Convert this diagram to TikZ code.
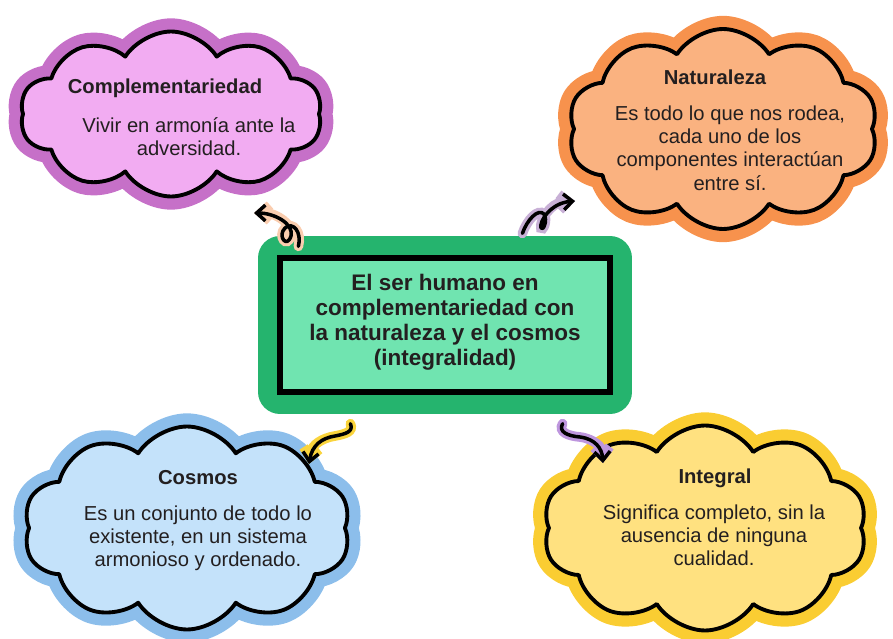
\documentclass[tikz,border=0pt]{standalone}
\usepackage{fontspec}
\setmainfont{Liberation Sans}
\usetikzlibrary{shapes.symbols,arrows.meta}

\definecolor{inkgray}{RGB}{35,31,32}
\definecolor{purpleband}{RGB}{198,112,200}
\definecolor{purplefill}{RGB}{242,172,242}
\definecolor{orangeband}{RGB}{247,146,77}
\definecolor{orangefill}{RGB}{250,178,128}
\definecolor{blueband}{RGB}{140,190,235}
\definecolor{bluefill}{RGB}{196,226,250}
\definecolor{yellowband}{RGB}{250,205,50}
\definecolor{yellowfill}{RGB}{255,225,128}
\definecolor{greenband}{RGB}{37,180,110}
\definecolor{greenfill}{RGB}{112,228,176}
\definecolor{peachhalo}{RGB}{250,205,175}
\definecolor{lilachalo}{RGB}{200,176,214}
\definecolor{yellowhalo}{RGB}{250,212,60}
\definecolor{violethalo}{RGB}{190,150,222}

\begin{document}
\begin{tikzpicture}[x=0.02cm, y=-0.02cm,
	thought/.style={cloud, cloud puffs=10, cloud puff arc=115, cloud ignores aspect, draw=black, line width=2.2pt, line join=round, inner sep=0pt},
	band/.style={preaction={draw=#1, line width=15pt, line join=round}},
	heading/.style={font=\fontsize{11.5}{13.2}\selectfont\bfseries, text=inkgray, inner sep=0pt},
	body/.style={font=\fontsize{11.5}{13.2}\selectfont, text=inkgray, align=center, inner sep=0pt},
	curl/.style={draw=black, line width=2pt, line cap=round, line join=round, -{Straight Barb[length=5pt,width=9pt]}, preaction={draw=#1, line width=5.5pt, line cap=round}}]
	
	\useasboundingbox (0,0) rectangle (893,639);
	
	%Central box
	\node (main) at (445,325) [rectangle, draw=black, line width=3pt, fill=greenfill, minimum width=6.6cm, minimum height=2.68cm, preaction={draw=greenband, line width=25pt, line join=round}]{};
	\node (mainText) at (445,322) [font=\fontsize{12.8}{14.3}\selectfont\bfseries, text=inkgray, align=center, inner sep=0pt]{El ser humano en\\complementariedad con\\la naturaleza y el cosmos\\(integralidad)};
	
	%Clouds
	\node (compl) at (171,114) [thought, band=purpleband, fill=purplefill, minimum width=6.04cm, minimum height=3.3cm]{};
	\node (natur) at (723,129) [thought, band=orangeband, fill=orangefill, minimum width=6.2cm, minimum height=4cm]{};
	\node (cosmos) at (187,528) [thought, band=blueband, fill=bluefill, minimum width=6.54cm, minimum height=4.06cm]{};
	\node (integ) at (705,528) [thought, band=yellowband, fill=yellowfill, minimum width=6.48cm, minimum height=4.1cm]{};
	
	%Cloud texts
	\node (complT) at (165,88) [heading]{Complementariedad};
	\node (complB) at (189,137) [body]{Vivir en armonía ante la\\adversidad.};
	
	\node (naturT) at (715,77) [heading]{Naturaleza};
	\node (naturB) at (730,148) [body]{Es todo lo que nos rodea,\\cada uno de los\\componentes interactúan\\entre sí.};
	
	\node (cosmosT) at (198,478) [heading]{Cosmos};
	\node (cosmosB) at (198,538) [body]{Es un conjunto de todo lo\\existente, en un sistema\\armonioso y ordenado.};
	
	\node (integT) at (715,478) [heading]{Integral};
	\node (integB) at (714,535) [body]{Significa completo, sin la\\ausencia de ninguna\\cualidad.};
	
	%Curly links
	\draw[curl=peachhalo] ([shift={(21,-9)}]main.north west) .. controls (302,232) and (293,221) .. (285,228) .. controls (277,236) and (287,249) .. (291,236) .. controls (294,224) and (275,213) .. ([shift={(83,99)}]compl.center);
	
	\draw[curl=lilachalo] ([shift={(245,-22)}]main.north west) .. controls (527,220) and (538,208) .. (544,214) .. controls (548,220) and (543,232) .. (541,228) .. controls (539,222) and (550,203) .. ([shift={(-148,72)}]natur.center);
	
	\draw[curl=yellowhalo] ([shift={(73,29)}]main.south west) .. controls (354,432) and (345,434) .. (335,436) .. controls (322,438) and (312,445) .. ([shift={(122,-64)}]cosmos.center);
	
	\draw[curl=violethalo] ([shift={(-50,29)}]main.south east) .. controls (558,432) and (568,436) .. (580,437) .. controls (595,439) and (602,448) .. ([shift={(-102,-65)}]integ.center);
	
\end{tikzpicture}
\end{document}
